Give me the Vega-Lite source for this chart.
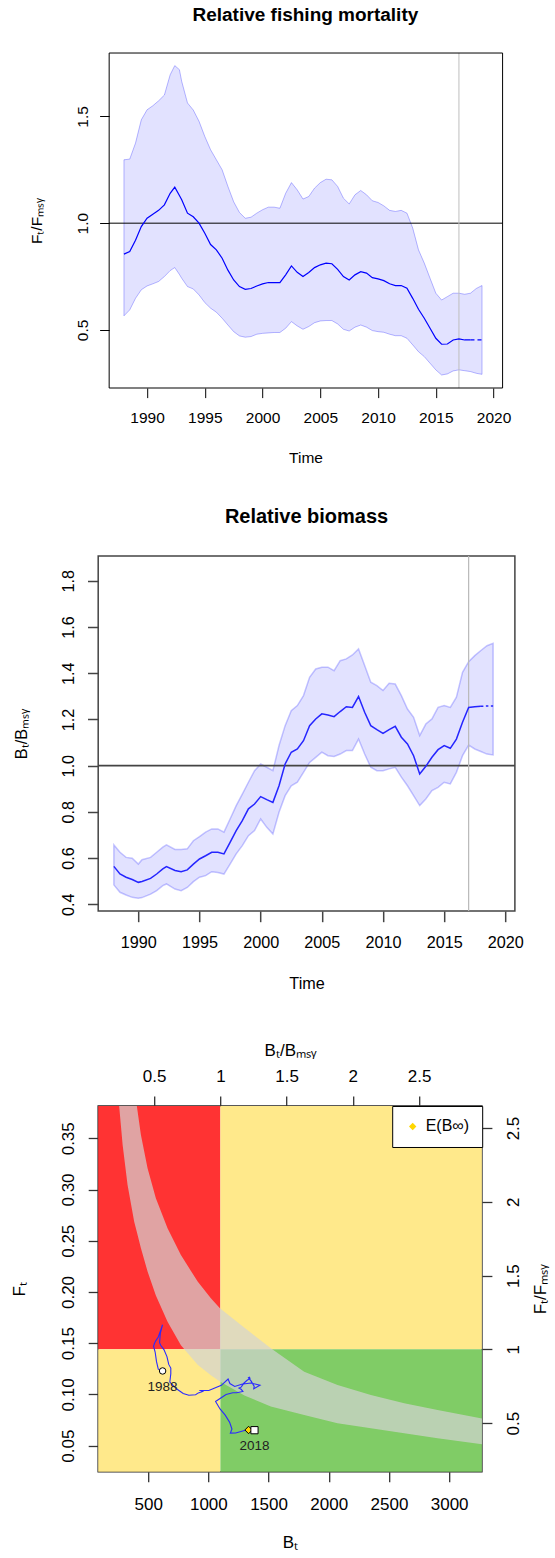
{
  "$schema": "https://vega.github.io/schema/vega-lite/v6.json",
  "background": "white",
  "padding": {"left": 9.2, "top": 5, "right": 0, "bottom": 0},
  "config": {
    "font": "Liberation Sans",
    "view": {"stroke": null},
    "axis": {"grid": false, "domain": false, "labelFlush": false, "labelOverlap": false, "titleFontWeight": "normal", "labelColor": "black", "titleColor": "black", "tickColor": "black", "tickWidth": 1},
    "title": {"color": "black"}
  },
  "datasets": {
    "ffmsy": [
      {"t": 1988.0, "lo": 0.566, "mid": 0.855, "hi": 1.297},
      {"t": 1988.5, "lo": 0.594, "mid": 0.867, "hi": 1.3},
      {"t": 1989.0, "lo": 0.648, "mid": 0.92, "hi": 1.375},
      {"t": 1989.5, "lo": 0.688, "mid": 0.984, "hi": 1.484},
      {"t": 1990.0, "lo": 0.706, "mid": 1.023, "hi": 1.531},
      {"t": 1990.5, "lo": 0.716, "mid": 1.042, "hi": 1.55},
      {"t": 1991.0, "lo": 0.727, "mid": 1.06, "hi": 1.573},
      {"t": 1991.5, "lo": 0.75, "mid": 1.086, "hi": 1.6},
      {"t": 1992.0, "lo": 0.778, "mid": 1.14, "hi": 1.695},
      {"t": 1992.4, "lo": 0.792, "mid": 1.169, "hi": 1.738},
      {"t": 1992.8, "lo": 0.76, "mid": 1.13, "hi": 1.719},
      {"t": 1993.0, "lo": 0.742, "mid": 1.11, "hi": 1.664},
      {"t": 1993.5, "lo": 0.703, "mid": 1.047, "hi": 1.563},
      {"t": 1994.0, "lo": 0.692, "mid": 1.03, "hi": 1.53},
      {"t": 1994.5, "lo": 0.664, "mid": 1.0, "hi": 1.477},
      {"t": 1995.0, "lo": 0.628, "mid": 0.953, "hi": 1.406},
      {"t": 1995.5, "lo": 0.602, "mid": 0.9, "hi": 1.344},
      {"t": 1996.0, "lo": 0.583, "mid": 0.875, "hi": 1.297},
      {"t": 1996.5, "lo": 0.555, "mid": 0.836, "hi": 1.25},
      {"t": 1997.0, "lo": 0.523, "mid": 0.78, "hi": 1.172},
      {"t": 1997.5, "lo": 0.492, "mid": 0.734, "hi": 1.1},
      {"t": 1998.0, "lo": 0.472, "mid": 0.703, "hi": 1.05},
      {"t": 1998.5, "lo": 0.466, "mid": 0.69, "hi": 1.023},
      {"t": 1999.0, "lo": 0.469, "mid": 0.694, "hi": 1.028},
      {"t": 1999.5, "lo": 0.48, "mid": 0.706, "hi": 1.047},
      {"t": 2000.0, "lo": 0.484, "mid": 0.716, "hi": 1.063},
      {"t": 2000.5, "lo": 0.486, "mid": 0.722, "hi": 1.075},
      {"t": 2001.0, "lo": 0.488, "mid": 0.722, "hi": 1.075},
      {"t": 2001.5, "lo": 0.488, "mid": 0.722, "hi": 1.07},
      {"t": 2002.0, "lo": 0.508, "mid": 0.758, "hi": 1.14},
      {"t": 2002.5, "lo": 0.539, "mid": 0.8, "hi": 1.19},
      {"t": 2003.0, "lo": 0.519, "mid": 0.77, "hi": 1.156},
      {"t": 2003.5, "lo": 0.503, "mid": 0.75, "hi": 1.113},
      {"t": 2004.0, "lo": 0.516, "mid": 0.769, "hi": 1.125},
      {"t": 2004.5, "lo": 0.534, "mid": 0.792, "hi": 1.164},
      {"t": 2005.0, "lo": 0.542, "mid": 0.805, "hi": 1.19},
      {"t": 2005.5, "lo": 0.544, "mid": 0.813, "hi": 1.206},
      {"t": 2006.0, "lo": 0.544, "mid": 0.81, "hi": 1.203},
      {"t": 2006.5, "lo": 0.528, "mid": 0.784, "hi": 1.172},
      {"t": 2007.0, "lo": 0.503, "mid": 0.75, "hi": 1.117},
      {"t": 2007.5, "lo": 0.495, "mid": 0.734, "hi": 1.09},
      {"t": 2008.0, "lo": 0.513, "mid": 0.758, "hi": 1.133},
      {"t": 2008.5, "lo": 0.523, "mid": 0.773, "hi": 1.153},
      {"t": 2009.0, "lo": 0.513, "mid": 0.766, "hi": 1.133},
      {"t": 2009.5, "lo": 0.497, "mid": 0.745, "hi": 1.105},
      {"t": 2010.0, "lo": 0.492, "mid": 0.739, "hi": 1.097},
      {"t": 2010.5, "lo": 0.489, "mid": 0.731, "hi": 1.081},
      {"t": 2011.0, "lo": 0.48, "mid": 0.716, "hi": 1.06},
      {"t": 2011.5, "lo": 0.473, "mid": 0.708, "hi": 1.055},
      {"t": 2012.0, "lo": 0.473, "mid": 0.708, "hi": 1.06},
      {"t": 2012.5, "lo": 0.461, "mid": 0.695, "hi": 1.047},
      {"t": 2013.0, "lo": 0.43, "mid": 0.648, "hi": 0.977},
      {"t": 2013.5, "lo": 0.398, "mid": 0.597, "hi": 0.875},
      {"t": 2014.0, "lo": 0.375, "mid": 0.555, "hi": 0.813},
      {"t": 2014.5, "lo": 0.344, "mid": 0.508, "hi": 0.742},
      {"t": 2015.0, "lo": 0.313, "mid": 0.461, "hi": 0.672},
      {"t": 2015.5, "lo": 0.289, "mid": 0.433, "hi": 0.64},
      {"t": 2016.0, "lo": 0.294, "mid": 0.434, "hi": 0.656},
      {"t": 2016.5, "lo": 0.308, "mid": 0.453, "hi": 0.672},
      {"t": 2017.0, "lo": 0.313, "mid": 0.458, "hi": 0.672},
      {"t": 2017.5, "lo": 0.309, "mid": 0.453, "hi": 0.667},
      {"t": 2018.0, "lo": 0.305, "mid": 0.453, "hi": 0.672},
      {"t": 2018.5, "lo": 0.297, "mid": 0.453, "hi": 0.694},
      {"t": 2019.0, "lo": 0.292, "mid": 0.453, "hi": 0.708}
    ],
    "bbmsy": [
      {"t": 1988.0, "lo": 0.484, "mid": 0.564, "hi": 0.657},
      {"t": 1988.5, "lo": 0.452, "mid": 0.531, "hi": 0.625},
      {"t": 1989.0, "lo": 0.44, "mid": 0.517, "hi": 0.603},
      {"t": 1989.5, "lo": 0.43, "mid": 0.507, "hi": 0.599},
      {"t": 1990.0, "lo": 0.426, "mid": 0.495, "hi": 0.574},
      {"t": 1990.3, "lo": 0.429, "mid": 0.499, "hi": 0.593},
      {"t": 1991.0, "lo": 0.444, "mid": 0.512, "hi": 0.603},
      {"t": 1991.5, "lo": 0.459, "mid": 0.531, "hi": 0.625},
      {"t": 1992.0, "lo": 0.481, "mid": 0.553, "hi": 0.647},
      {"t": 1992.3, "lo": 0.488, "mid": 0.563, "hi": 0.657},
      {"t": 1993.0, "lo": 0.466, "mid": 0.546, "hi": 0.637},
      {"t": 1993.5, "lo": 0.459, "mid": 0.541, "hi": 0.637},
      {"t": 1994.0, "lo": 0.473, "mid": 0.549, "hi": 0.64},
      {"t": 1994.5, "lo": 0.498, "mid": 0.574, "hi": 0.675},
      {"t": 1995.0, "lo": 0.517, "mid": 0.596, "hi": 0.693},
      {"t": 1995.5, "lo": 0.524, "mid": 0.61, "hi": 0.712},
      {"t": 1996.0, "lo": 0.541, "mid": 0.625, "hi": 0.726},
      {"t": 1996.5, "lo": 0.538, "mid": 0.625, "hi": 0.726},
      {"t": 1997.0, "lo": 0.531, "mid": 0.618, "hi": 0.712},
      {"t": 1997.5, "lo": 0.574, "mid": 0.668, "hi": 0.769},
      {"t": 1998.0, "lo": 0.618, "mid": 0.719, "hi": 0.827},
      {"t": 1998.5, "lo": 0.654, "mid": 0.762, "hi": 0.877},
      {"t": 1999.0, "lo": 0.697, "mid": 0.813, "hi": 0.928},
      {"t": 1999.5, "lo": 0.719, "mid": 0.834, "hi": 0.978},
      {"t": 2000.0, "lo": 0.769, "mid": 0.866, "hi": 1.007},
      {"t": 2000.5, "lo": 0.733, "mid": 0.853, "hi": 0.993},
      {"t": 2001.0, "lo": 0.704, "mid": 0.841, "hi": 0.978},
      {"t": 2001.5, "lo": 0.798, "mid": 0.913, "hi": 1.087},
      {"t": 2002.0, "lo": 0.87, "mid": 1.007, "hi": 1.173},
      {"t": 2002.5, "lo": 0.913, "mid": 1.058, "hi": 1.238},
      {"t": 2003.0, "lo": 0.928, "mid": 1.072, "hi": 1.26},
      {"t": 2003.5, "lo": 0.971, "mid": 1.108, "hi": 1.303},
      {"t": 2004.0, "lo": 1.014, "mid": 1.173, "hi": 1.382},
      {"t": 2004.5, "lo": 1.036, "mid": 1.202, "hi": 1.418},
      {"t": 2005.0, "lo": 1.058, "mid": 1.224, "hi": 1.426},
      {"t": 2005.5, "lo": 1.043, "mid": 1.219, "hi": 1.426},
      {"t": 2006.0, "lo": 1.04, "mid": 1.212, "hi": 1.411},
      {"t": 2006.5, "lo": 1.05, "mid": 1.234, "hi": 1.454},
      {"t": 2007.0, "lo": 1.065, "mid": 1.255, "hi": 1.462},
      {"t": 2007.5, "lo": 1.065, "mid": 1.252, "hi": 1.479},
      {"t": 2008.0, "lo": 1.115, "mid": 1.299, "hi": 1.505},
      {"t": 2008.5, "lo": 1.05, "mid": 1.231, "hi": 1.433},
      {"t": 2009.0, "lo": 0.993, "mid": 1.173, "hi": 1.361},
      {"t": 2009.5, "lo": 0.978, "mid": 1.156, "hi": 1.346},
      {"t": 2010.0, "lo": 0.978, "mid": 1.14, "hi": 1.325},
      {"t": 2010.5, "lo": 0.986, "mid": 1.156, "hi": 1.356},
      {"t": 2011.0, "lo": 0.993, "mid": 1.17, "hi": 1.353},
      {"t": 2011.5, "lo": 0.95, "mid": 1.123, "hi": 1.303},
      {"t": 2012.0, "lo": 0.913, "mid": 1.094, "hi": 1.245},
      {"t": 2012.5, "lo": 0.87, "mid": 1.043, "hi": 1.209},
      {"t": 2013.0, "lo": 0.827, "mid": 0.964, "hi": 1.13},
      {"t": 2013.5, "lo": 0.856, "mid": 0.997, "hi": 1.18},
      {"t": 2014.0, "lo": 0.892, "mid": 1.036, "hi": 1.202},
      {"t": 2014.5, "lo": 0.906, "mid": 1.069, "hi": 1.252},
      {"t": 2015.0, "lo": 0.928, "mid": 1.087, "hi": 1.26},
      {"t": 2015.5, "lo": 0.921, "mid": 1.075, "hi": 1.252},
      {"t": 2016.0, "lo": 0.971, "mid": 1.115, "hi": 1.296},
      {"t": 2016.5, "lo": 1.043, "mid": 1.188, "hi": 1.404},
      {"t": 2017.0, "lo": 1.089, "mid": 1.252, "hi": 1.45},
      {"t": 2017.5, "lo": 1.072, "mid": 1.255, "hi": 1.476},
      {"t": 2018.0, "lo": 1.061, "mid": 1.257, "hi": 1.498},
      {"t": 2018.5, "lo": 1.05, "mid": 1.258, "hi": 1.519},
      {"t": 2019.0, "lo": 1.046, "mid": 1.258, "hi": 1.529}
    ],
    "kobe": [
      {"t": 1988.0, "Bt": 620, "Ft": 0.1229},
      {"t": 1988.5, "Bt": 584, "Ft": 0.1246},
      {"t": 1989.0, "Bt": 569, "Ft": 0.1322},
      {"t": 1989.5, "Bt": 558, "Ft": 0.1414},
      {"t": 1990.0, "Bt": 545, "Ft": 0.147},
      {"t": 1990.5, "Bt": 552, "Ft": 0.1497},
      {"t": 1991.0, "Bt": 563, "Ft": 0.1523},
      {"t": 1991.5, "Bt": 584, "Ft": 0.1561},
      {"t": 1992.0, "Bt": 608, "Ft": 0.1638},
      {"t": 1992.4, "Bt": 619, "Ft": 0.168},
      {"t": 1993.0, "Bt": 601, "Ft": 0.1595},
      {"t": 1993.5, "Bt": 595, "Ft": 0.1505},
      {"t": 1994.0, "Bt": 604, "Ft": 0.148},
      {"t": 1994.5, "Bt": 631, "Ft": 0.1437},
      {"t": 1995.0, "Bt": 656, "Ft": 0.1369},
      {"t": 1995.5, "Bt": 671, "Ft": 0.1293},
      {"t": 1996.0, "Bt": 688, "Ft": 0.1257},
      {"t": 1996.5, "Bt": 688, "Ft": 0.1201},
      {"t": 1997.0, "Bt": 680, "Ft": 0.1121},
      {"t": 1997.5, "Bt": 735, "Ft": 0.1055},
      {"t": 1998.0, "Bt": 791, "Ft": 0.101},
      {"t": 1998.5, "Bt": 838, "Ft": 0.0992},
      {"t": 1999.0, "Bt": 894, "Ft": 0.0997},
      {"t": 1999.5, "Bt": 917, "Ft": 0.1015},
      {"t": 2000.0, "Bt": 953, "Ft": 0.1029},
      {"t": 2000.5, "Bt": 938, "Ft": 0.1038},
      {"t": 2001.0, "Bt": 925, "Ft": 0.1038},
      {"t": 2001.5, "Bt": 1004, "Ft": 0.1038},
      {"t": 2002.0, "Bt": 1108, "Ft": 0.1089},
      {"t": 2002.5, "Bt": 1164, "Ft": 0.115},
      {"t": 2003.0, "Bt": 1179, "Ft": 0.1106},
      {"t": 2003.5, "Bt": 1219, "Ft": 0.1078},
      {"t": 2004.0, "Bt": 1290, "Ft": 0.1105},
      {"t": 2004.5, "Bt": 1322, "Ft": 0.1138},
      {"t": 2005.0, "Bt": 1346, "Ft": 0.1157},
      {"t": 2005.5, "Bt": 1341, "Ft": 0.1168},
      {"t": 2006.0, "Bt": 1333, "Ft": 0.1164},
      {"t": 2006.5, "Bt": 1357, "Ft": 0.1127},
      {"t": 2007.0, "Bt": 1381, "Ft": 0.1078},
      {"t": 2007.5, "Bt": 1377, "Ft": 0.1055},
      {"t": 2008.0, "Bt": 1429, "Ft": 0.1089},
      {"t": 2008.5, "Bt": 1354, "Ft": 0.1111},
      {"t": 2009.0, "Bt": 1290, "Ft": 0.1101},
      {"t": 2009.5, "Bt": 1272, "Ft": 0.1071},
      {"t": 2010.0, "Bt": 1254, "Ft": 0.1062},
      {"t": 2010.5, "Bt": 1272, "Ft": 0.105},
      {"t": 2011.0, "Bt": 1287, "Ft": 0.1029},
      {"t": 2011.5, "Bt": 1235, "Ft": 0.1017},
      {"t": 2012.0, "Bt": 1203, "Ft": 0.1017},
      {"t": 2012.5, "Bt": 1147, "Ft": 0.0999},
      {"t": 2013.0, "Bt": 1060, "Ft": 0.0931},
      {"t": 2013.5, "Bt": 1097, "Ft": 0.0858},
      {"t": 2014.0, "Bt": 1140, "Ft": 0.0798},
      {"t": 2014.5, "Bt": 1176, "Ft": 0.073},
      {"t": 2015.0, "Bt": 1196, "Ft": 0.0662},
      {"t": 2015.5, "Bt": 1183, "Ft": 0.0622},
      {"t": 2016.0, "Bt": 1227, "Ft": 0.0624},
      {"t": 2016.5, "Bt": 1307, "Ft": 0.0651},
      {"t": 2017.0, "Bt": 1377, "Ft": 0.0658},
      {"t": 2017.5, "Bt": 1381, "Ft": 0.0651},
      {"t": 2018.0, "Bt": 1383, "Ft": 0.0651}
    ],
    "msyband": [
      {"Bt": 250, "lo": 0.392, "hi": 0.52},
      {"Bt": 259, "lo": 0.3815, "hi": 0.5},
      {"Bt": 288, "lo": 0.3435, "hi": 0.46},
      {"Bt": 329, "lo": 0.3044, "hi": 0.43},
      {"Bt": 384, "lo": 0.2686, "hi": 0.397},
      {"Bt": 406, "lo": 0.2584, "hi": 0.3815},
      {"Bt": 440, "lo": 0.2426, "hi": 0.3532},
      {"Bt": 495, "lo": 0.22, "hi": 0.3207},
      {"Bt": 564, "lo": 0.1965, "hi": 0.2914},
      {"Bt": 661, "lo": 0.171, "hi": 0.2622},
      {"Bt": 772, "lo": 0.1479, "hi": 0.2361},
      {"Bt": 911, "lo": 0.129, "hi": 0.2101},
      {"Bt": 1021, "lo": 0.1187, "hi": 0.1939},
      {"Bt": 1096, "lo": 0.1125, "hi": 0.1841},
      {"Bt": 1300, "lo": 0.099, "hi": 0.165},
      {"Bt": 1519, "lo": 0.0881, "hi": 0.145},
      {"Bt": 1796, "lo": 0.08, "hi": 0.1222},
      {"Bt": 2073, "lo": 0.0719, "hi": 0.1092},
      {"Bt": 2350, "lo": 0.067, "hi": 0.0995},
      {"Bt": 2627, "lo": 0.0621, "hi": 0.0914},
      {"Bt": 2904, "lo": 0.0572, "hi": 0.0849},
      {"Bt": 3300, "lo": 0.051, "hi": 0.076}
    ],
    "zones": [
      {"zone": "overfished, overfishing", "b0": 0, "b1": 1100, "f0": 0.144, "f1": 0.5},
      {"zone": "healthy stock, overfishing", "b0": 1100, "b1": 4000, "f0": 0.144, "f1": 0.5},
      {"zone": "overfished, recovering", "b0": 0, "b1": 1100, "f0": 0, "f1": 0.144},
      {"zone": "sustainable", "b0": 1100, "b1": 4000, "f0": 0, "f1": 0.144}
    ],
    "ebinf": [
      {"label": "E(B∞)", "Bt": 1334, "Ft": 0.0653}
    ]
  },
  "resolve": {"legend": {"shape": "independent", "color": "independent"}},
  "bounds": "flush",
  "spacing": 0,
  "vconcat": [
    {
      "width": 404.4,
      "height": 335,
      "title": {"text": "Relative fishing mortality", "fontSize": 19, "fontWeight": "bold", "offset": 27.8, "dx": 5, "frame": "group", "anchor": "middle"},
      "layer": [
        {
          "data": {"name": "ffmsy"},
          "mark": {"type": "area", "fill": "#0000ff", "fillOpacity": 0.115, "stroke": "#0000ff", "strokeOpacity": 0.28, "strokeWidth": 1},
          "encoding": {
            "x": {"field": "t", "type": "quantitative", "scale": {"domain": [1985.77, 2020.78], "nice": false, "zero": false},
              "axis": {"title": "Time", "titleX": 207.3, "values": [1990, 1995, 2000, 2005, 2010, 2015, 2020], "format": "d", "tickSize": 9.6, "labelFontSize": 15.5, "labelBaseline": "alphabetic", "labelPadding": 24.6, "titleFontSize": 15.5, "titleBaseline": "alphabetic", "titlePadding": 36.8}},
            "y": {"field": "lo", "type": "quantitative", "scale": {"domain": [0.228, 1.797], "nice": false, "zero": false},
              "axis": {"offset": -11, "title": "Fₜ/Fₘₛᵧ", "values": [0.5, 1, 1.5], "format": ".1f", "tickSize": 9.6, "labelFontSize": 15.5, "labelAngle": 270, "labelAlign": "center", "labelBaseline": "alphabetic", "labelPadding": 12.4, "titleFontSize": 15.5, "titleAngle": 270, "titleBaseline": "alphabetic", "titlePadding": 33.8}},
            "y2": {"field": "hi"}
          }
        },
        {
          "data": {"values": [{}]},
          "mark": {"type": "rule", "color": "black", "strokeWidth": 1},
          "encoding": {"x": {"datum": 1986.72, "type": "quantitative"}, "x2": {"datum": 2020.78}, "y": {"datum": 1, "type": "quantitative"}}
        },
        {
          "data": {"values": [{}]},
          "mark": {"type": "rule", "color": "#bebebe", "strokeWidth": 1},
          "encoding": {"x": {"datum": 2017, "type": "quantitative"}}
        },
        {
          "data": {"name": "ffmsy"},
          "transform": [{"filter": "datum.t <= 2018"}],
          "mark": {"type": "line", "color": "#0000ff", "strokeWidth": 1.2},
          "encoding": {"x": {"field": "t", "type": "quantitative"}, "y": {"field": "mid", "type": "quantitative"}}
        },
        {
          "data": {"name": "ffmsy"},
          "transform": [{"filter": "datum.t >= 2018"}],
          "mark": {"type": "line", "color": "#0000ff", "strokeWidth": 1.2, "strokeDash": [4, 3]},
          "encoding": {"x": {"field": "t", "type": "quantitative"}, "y": {"field": "mid", "type": "quantitative"}}
        },
        {
          "data": {"values": [{}]},
          "mark": {"type": "rect", "fillOpacity": 0, "stroke": "black", "strokeWidth": 1},
          "encoding": {"x": {"datum": 1986.72, "type": "quantitative"}, "x2": {"datum": 2020.78}, "y": {"datum": 0.228, "type": "quantitative"}, "y2": {"datum": 1.797}}
        }
      ]
    },
    {"width": 1, "height": 167.7, "data": {"values": []}, "mark": "point"},
    {
      "width": 416.7,
      "height": 355,
      "view": {"stroke": "#444", "strokeWidth": 1.5},
      "title": {"text": "Relative biomass", "fontSize": 20, "fontWeight": "bold", "offset": 28.7, "frame": "group", "anchor": "middle"},
      "layer": [
        {
          "data": {"name": "bbmsy"},
          "mark": {"type": "area", "fill": "#0000ff", "fillOpacity": 0.115, "stroke": "#0000ff", "strokeOpacity": 0.22, "strokeWidth": 1.5},
          "encoding": {
            "x": {"field": "t", "type": "quantitative", "scale": {"domain": [1986.72, 2020.78], "nice": false, "zero": false},
              "axis": {"title": "Time", "values": [1990, 1995, 2000, 2005, 2010, 2015, 2020], "format": "d", "tickSize": 10.7, "tickColor": "#444", "tickWidth": 1.5, "labelFontSize": 16.2, "labelBaseline": "alphabetic", "labelPadding": 25.8, "titleFontSize": 16.2, "titleBaseline": "alphabetic", "titlePadding": 38.2}},
            "y": {"field": "lo", "type": "quantitative", "scale": {"domain": [0.371, 1.907], "nice": false, "zero": false},
              "axis": {"title": "Bₜ/Bₘₛᵧ", "values": [0.4, 0.6, 0.8, 1.0, 1.2, 1.4, 1.6, 1.8], "format": ".1f", "tickSize": 10.7, "tickColor": "#444", "tickWidth": 1.5, "labelFontSize": 16.2, "labelAngle": 270, "labelAlign": "center", "labelBaseline": "alphabetic", "labelPadding": 13.5, "titleFontSize": 16.2, "titleAngle": 270, "titleBaseline": "alphabetic", "titlePadding": 34.7}},
            "y2": {"field": "hi"}
          }
        },
        {
          "data": {"values": [{}]},
          "mark": {"type": "rule", "color": "#444", "strokeWidth": 1.6},
          "encoding": {"y": {"datum": 1, "type": "quantitative"}}
        },
        {
          "data": {"values": [{}]},
          "mark": {"type": "rule", "color": "#b8b8b8", "strokeWidth": 1.2},
          "encoding": {"x": {"datum": 2017, "type": "quantitative"}}
        },
        {
          "data": {"name": "bbmsy"},
          "transform": [{"filter": "datum.t <= 2018"}],
          "mark": {"type": "line", "color": "#2525ff", "strokeWidth": 1.5},
          "encoding": {"x": {"field": "t", "type": "quantitative"}, "y": {"field": "mid", "type": "quantitative"}}
        },
        {
          "data": {"name": "bbmsy"},
          "transform": [{"filter": "datum.t >= 2018"}],
          "mark": {"type": "line", "color": "#2525ff", "strokeWidth": 1.5, "strokeDash": [2.5, 2.5]},
          "encoding": {"x": {"field": "t", "type": "quantitative"}, "y": {"field": "mid", "type": "quantitative"}}
        }
      ]
    },
    {"width": 1, "height": 195, "data": {"values": []}, "mark": "point"},
    {
      "width": 383.7,
      "height": 365.7,
      "view": {"stroke": "#222", "strokeWidth": 1.5},
      "resolve": {"axis": {"x": "independent", "y": "independent"}},
      "layer": [
        {
          "data": {"name": "zones"},
          "mark": {"type": "rect", "clip": true},
          "encoding": {
            "x": {"field": "b0", "type": "quantitative", "scale": {"domain": [85, 3272], "nice": false, "zero": false},
              "axis": {"title": "Bₜ", "values": [500, 1000, 1500, 2000, 2500, 3000], "format": "d", "tickSize": 10, "tickColor": "#333", "tickWidth": 1.3, "labelFontSize": 17, "labelBaseline": "alphabetic", "labelPadding": 27.7, "titleFontSize": 17, "titleBaseline": "alphabetic", "titlePadding": 34.8}},
            "x2": {"field": "b1"},
            "y": {"field": "f0", "type": "quantitative", "scale": {"domain": [0.0246, 0.3815], "nice": false, "zero": false},
              "axis": {"title": "Fₜ", "values": [0.05, 0.1, 0.15, 0.2, 0.25, 0.3, 0.35], "format": ".2f", "tickSize": 10, "tickColor": "#333", "tickWidth": 1.3, "labelFontSize": 17, "labelAngle": 270, "labelAlign": "center", "labelBaseline": "alphabetic", "labelPadding": 14.5, "titleFontSize": 17, "titleAngle": 270, "titleBaseline": "alphabetic", "titlePadding": 35.3}},
            "y2": {"field": "f1"},
            "color": {"field": "zone", "type": "nominal", "legend": null,
              "scale": {"domain": ["overfished, overfishing", "healthy stock, overfishing", "overfished, recovering", "sustainable"], "range": ["#ff3333", "#ffe98b", "#ffe98b", "#80cc66"]}}
          }
        },
        {
          "data": {"name": "msyband"},
          "mark": {"type": "area", "clip": true, "fill": "#d3d3d3", "fillOpacity": 0.7},
          "encoding": {
            "x": {"field": "Bt", "type": "quantitative",
              "axis": {"orient": "top", "title": "Bₜ/Bₘₛᵧ", "values": [550, 1100, 1650, 2200, 2750], "labelExpr": "format(datum.value / 1100, '~g')", "tickSize": 10, "tickColor": "#333", "tickWidth": 1.3, "labelFontSize": 17, "labelBaseline": "alphabetic", "labelPadding": 14.2, "titleFontSize": 17, "titleBaseline": "alphabetic", "titlePadding": 12.3}},
            "y": {"field": "lo", "type": "quantitative",
              "axis": {"orient": "right", "title": "Fₜ/Fₘₛᵧ", "values": [0.072, 0.144, 0.216, 0.288, 0.36], "labelExpr": "format(datum.value / 0.144, '~g')", "tickSize": 10, "tickColor": "#333", "tickWidth": 1.3, "labelFontSize": 17, "labelAngle": 270, "labelAlign": "center", "labelBaseline": "alphabetic", "labelPadding": 26.8, "titleFontSize": 17, "titleAngle": 270, "titleBaseline": "alphabetic", "titlePadding": 24}},
            "y2": {"field": "hi"}
          }
        },
        {
          "data": {"name": "kobe"},
          "mark": {"type": "line", "color": "#2a2aff", "strokeWidth": 1.1},
          "encoding": {
            "x": {"field": "Bt", "type": "quantitative", "axis": null},
            "y": {"field": "Ft", "type": "quantitative", "axis": null},
            "order": {"field": "t", "type": "quantitative"}
          }
        },
        {
          "data": {"name": "ebinf"},
          "mark": {"type": "point", "filled": true, "fill": "#ffd700", "stroke": "black", "strokeWidth": 1, "size": 55, "opacity": 1},
          "encoding": {
            "x": {"field": "Bt", "type": "quantitative", "axis": null},
            "y": {"field": "Ft", "type": "quantitative", "axis": null},
            "shape": {"field": "label", "type": "nominal", "scale": {"range": ["diamond"]},
              "legend": {"title": null, "orient": "top-right", "offset": 0, "padding": 12.5, "strokeColor": "black", "fillColor": "white", "cornerRadius": 0, "labelFontSize": 16, "labelColor": "black", "labelOffset": 5, "symbolFillColor": "#ffd700", "symbolStrokeColor": "black", "symbolStrokeWidth": 1, "symbolSize": 55}}
          }
        },
        {
          "data": {"name": "kobe"},
          "transform": [{"filter": "datum.t == 1988"}],
          "mark": {"type": "point", "shape": "circle", "filled": true, "fill": "white", "stroke": "black", "strokeWidth": 1, "size": 42, "opacity": 1},
          "encoding": {"x": {"field": "Bt", "type": "quantitative", "axis": null}, "y": {"field": "Ft", "type": "quantitative", "axis": null}}
        },
        {
          "data": {"name": "kobe"},
          "transform": [{"filter": "datum.t == 2018"}],
          "mark": {"type": "point", "shape": "square", "filled": true, "fill": "white", "stroke": "black", "strokeWidth": 1, "size": 52, "opacity": 1},
          "encoding": {"x": {"field": "Bt", "type": "quantitative", "axis": null}, "y": {"field": "Ft", "type": "quantitative", "axis": null}}
        },
        {
          "data": {"name": "kobe"},
          "transform": [{"filter": "datum.t == 1988 || datum.t == 2018"}],
          "mark": {"type": "text", "dy": 16, "fontSize": 13.5, "color": "#222", "baseline": "middle", "align": "center"},
          "encoding": {
            "x": {"field": "Bt", "type": "quantitative", "axis": null},
            "y": {"field": "Ft", "type": "quantitative", "axis": null},
            "text": {"field": "t", "type": "quantitative", "format": "d"}
          }
        }
      ]
    }
  ]
}
